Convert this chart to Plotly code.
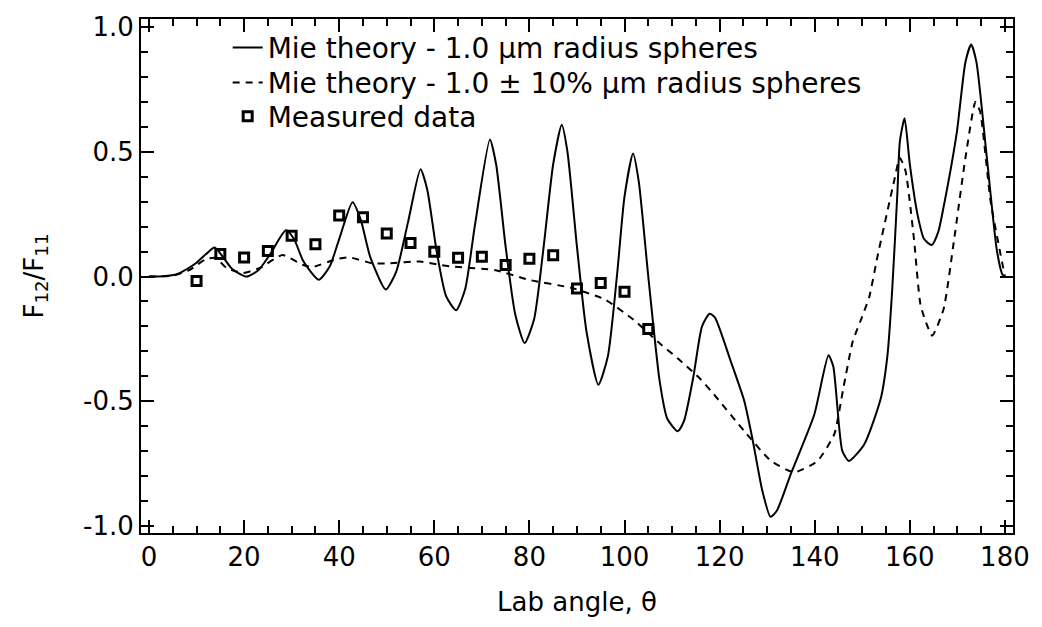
import plotly.graph_objects as go

# Mie theory, 1.0 um radius spheres (solid)
mie_theta = [0, 3, 6, 8, 10, 12, 13.8, 15.5, 17.5, 20.5, 23, 25.5, 28.8, 30.5, 32.5, 35.7, 38, 40,
             42.8, 44.5, 46.5, 49.8, 52, 54.5, 57.1, 58.5, 60.5, 62.5, 64.6, 66.5, 68.5, 71.7, 73,
             75, 77, 79, 81, 83, 85, 86.8, 88, 90, 92, 94.5, 96.5, 98.5, 100, 101.8, 103, 105,
             107.4, 109, 111.2, 112.5, 114.5, 116.3, 117.9, 119, 122.4, 125.2, 127, 129, 130.7, 132,
             135, 139.9, 142.9, 143.9, 145.8, 147.2, 150.4, 153.9, 155.3, 156.3, 157.4, 157.9, 158.9,
             160, 161.6, 163, 164.6, 166, 167.1, 169.9, 171.7, 172.9, 174, 176.2, 178.3, 179.5, 180]
mie_val = [0, 0.001, 0.01, 0.03, 0.055, 0.09, 0.116, 0.08, 0.03, 0.0, 0.025, 0.09, 0.185, 0.15,
           0.06, -0.013, 0.04, 0.15, 0.298, 0.23, 0.08, -0.052, 0.02, 0.22, 0.43, 0.35, 0.1, -0.08,
           -0.135, -0.05, 0.2, 0.549, 0.45, 0.12, -0.15, -0.267, -0.17, 0.12, 0.45, 0.608, 0.5,
           0.12, -0.22, -0.434, -0.32, 0.02, 0.32, 0.493, 0.38, 0.0, -0.42, -0.57, -0.62, -0.58,
           -0.4, -0.2, -0.149, -0.164, -0.343, -0.5, -0.66, -0.86, -0.963, -0.94, -0.79, -0.554,
           -0.316, -0.36, -0.699, -0.739, -0.673, -0.488, -0.316, -0.052, 0.34, 0.54, 0.634, 0.45,
           0.25, 0.15, 0.126, 0.18, 0.278, 0.58, 0.86, 0.93, 0.86, 0.476, 0.106, 0.007, 0.0]

# Mie theory, 1.0 +/- 10% um radius spheres (dashed)
mie10_theta = [0, 5, 8.6, 12, 14, 16.3, 19.8, 23.3, 28.1, 32.3, 34.4, 39.3, 42.1, 47, 50.5, 57, 61,
               63.8, 72.9, 79.8, 88.9, 95.9, 102.2, 107.1, 111.3, 115.5, 118.3, 125.2, 130.8, 135.7,
               140.6, 144.1, 146, 148, 150, 151.5, 153.2, 156.7, 157.9, 159.1, 160.9, 162.3, 164.7,
               167.1, 169.3, 171.7, 173.8, 174.8, 177, 180]
mie10_val = [0, 0.003, 0.027, 0.07, 0.075, 0.034, 0.014, 0.034, 0.086, 0.047, 0.038, 0.069, 0.077,
             0.053, 0.053, 0.06, 0.047, 0.04, 0.025, -0.013, -0.046, -0.092, -0.178, -0.263, -0.33,
             -0.402, -0.461, -0.62, -0.739, -0.785, -0.739, -0.633, -0.45, -0.26, -0.16, -0.08, 0.08,
             0.383, 0.476, 0.423, 0.146, -0.118, -0.237, -0.131, 0.146, 0.476, 0.70, 0.66, 0.3, 0.0]

# Measured data
meas_theta = [10, 15, 20, 25, 30, 35, 40, 45, 50, 55, 60, 65, 70, 75, 80, 85, 90, 95, 100, 105]
meas_val = [-0.018, 0.09, 0.076, 0.102, 0.163, 0.129, 0.244, 0.237, 0.172, 0.134, 0.099, 0.075,
            0.079, 0.046, 0.071, 0.085, -0.048, -0.026, -0.061, -0.21]

x_ticks = [0, 20, 40, 60, 80, 100, 120, 140, 160, 180]
y_ticks = [-1.0, -0.5, 0.0, 0.5, 1.0]
y_ticklabels = ["-1.0", "-0.5", "0.0", "0.5", "1.0"]

FONT = "DejaVu Sans, Liberation Sans, Arial, sans-serif"

fig = go.Figure()
fig.add_trace(go.Scatter(x=mie_theta, y=mie_val, mode="lines",
                         line=dict(color="black", width=2, shape="spline", smoothing=0.6),
                         name="Mie theory - 1.0 µm radius spheres", legend="legend"))
fig.add_trace(go.Scatter(x=mie10_theta, y=mie10_val, mode="lines",
                         line=dict(color="black", width=2, dash="7px,6px", shape="spline", smoothing=0.5),
                         name="Mie theory - 1.0 ± 10% µm radius spheres", legend="legend2"))
fig.add_trace(go.Scatter(x=meas_theta, y=meas_val, mode="markers",
                         marker=dict(symbol="square-open", size=9, color="black", line=dict(width=3, color="black")),
                         name="Measured data", legend="legend3"))

leg_common = dict(xanchor="left", yanchor="middle", bgcolor="rgba(0,0,0,0)",
                  font=dict(size=28, family=FONT), itemwidth=30)

fig.update_layout(
    width=1042, height=627,
    margin=dict(l=141, r=26, t=13, b=94),
    paper_bgcolor="white", plot_bgcolor="white",
    font=dict(family=FONT, color="black"),
    showlegend=True,
    legend=dict(x=0.0994, y=0.944, **leg_common),
    legend2=dict(x=0.0994, y=0.876, **leg_common),
    legend3=dict(x=0.0994, y=0.810, **leg_common),
)
fig.update_xaxes(
    range=[-1.68, 181.7], tickvals=x_ticks, ticktext=[str(v) for v in x_ticks],
    ticks="inside", ticklen=13, tickwidth=2, tickcolor="black",
    minor=dict(dtick=5, tick0=0, ticks="inside", ticklen=7, tickwidth=2, tickcolor="black"),
    showline=True, linecolor="black", linewidth=2, mirror="ticks",
    showgrid=False, zeroline=False,
    tickfont=dict(size=26, family=FONT),
    title=dict(text="Lab angle, θ", font=dict(size=26, family=FONT), standoff=22),
)
fig.update_yaxes(
    range=[-1.028, 1.032], tickvals=y_ticks, ticktext=y_ticklabels,
    ticks="inside", ticklen=13, tickwidth=2, tickcolor="black",
    minor=dict(dtick=0.1, tick0=0, ticks="inside", ticklen=7, tickwidth=2, tickcolor="black"),
    showline=True, linecolor="black", linewidth=2, mirror="ticks",
    showgrid=False, zeroline=False,
    tickfont=dict(size=26, family=FONT),
    title=dict(text="F<sub>12</sub>/F<sub>11</sub>", font=dict(size=26, family=FONT), standoff=32),
)

fig.write_html("out.html")
